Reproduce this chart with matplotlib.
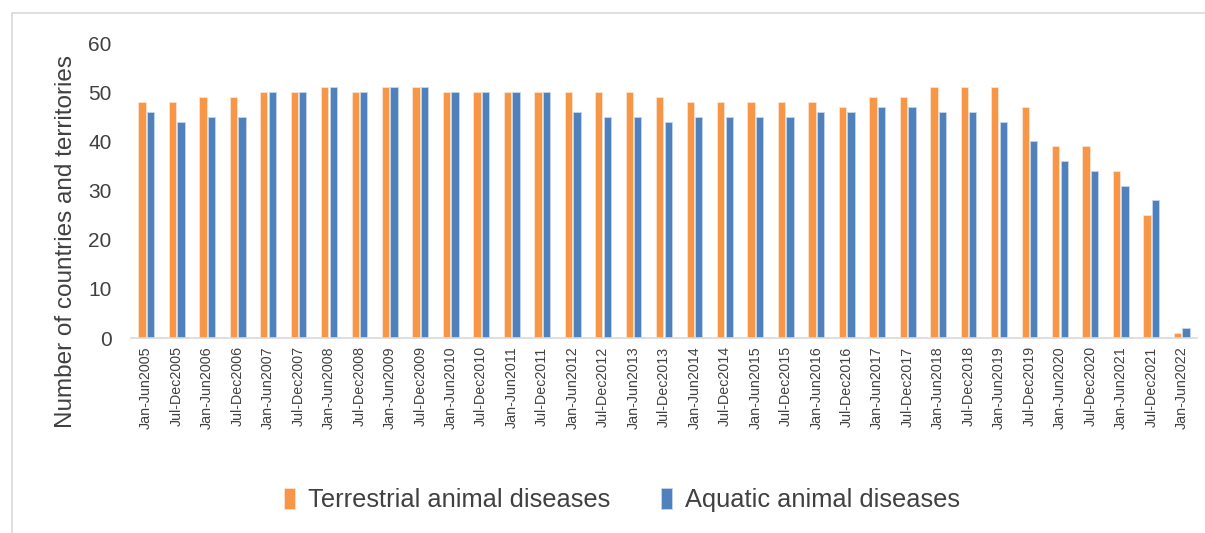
import matplotlib
matplotlib.use("Agg")
import matplotlib.pyplot as plt
import numpy as np

categories = []
for yr in range(2005, 2022):
    categories.append(f"Jan-Jun{yr}")
    categories.append(f"Jul-Dec{yr}")
categories.append("Jan-Jun2022")

terrestrial = [48, 48, 49, 49, 50, 50, 51, 50, 51, 51, 50, 50, 50, 50, 50, 50, 50, 49,
               48, 48, 48, 48, 48, 47, 49, 49, 51, 51, 51, 47, 39, 39, 34, 25, 1]
aquatic = [46, 44, 45, 45, 50, 50, 51, 50, 51, 51, 50, 50, 50, 50, 46, 45, 45, 44,
           45, 45, 45, 45, 46, 46, 47, 47, 46, 46, 44, 40, 36, 34, 31, 28, 2]

plt.rcParams['font.family'] = ['Liberation Sans', 'DejaVu Sans']

fig = plt.figure(figsize=(12.05, 5.33), dpi=100)
# outer light border
fig.patches.append(plt.Rectangle((12/1205, -0.1), 1.2, 1 - 13/533 + 0.1, transform=fig.transFigure,
                                 fill=False, edgecolor='#d9d9d9', linewidth=1.2))
ax = fig.add_axes([131/1205, 1 - 338/533, (1197 - 131)/1205, (338 - 43)/533])

x = np.arange(len(categories))
w = 0.24
ax.bar(x - 0.14, terrestrial, width=w, color='#F79646', edgecolor='#fde3cf', linewidth=0.6,
       label='Terrestrial animal diseases')
ax.bar(x + 0.14, aquatic, width=w, color='#4F81BD', edgecolor='#c6d6ec', linewidth=0.6,
       label='Aquatic animal diseases')

ax.set_xlim(-0.5, len(categories) - 0.5)
ax.set_ylim(0, 60)
ax.set_yticks(range(0, 61, 10))
ax.set_xticks(x)
ax.set_xticklabels(categories, rotation=90, fontsize=10.3, color='#404040')
ax.tick_params(axis='y', labelsize=15, colors='#404040', length=0, pad=14)
ax.tick_params(axis='x', length=0, pad=6)
for s in ['top', 'right', 'left']:
    ax.spines[s].set_visible(False)
ax.spines['bottom'].set_color('#d9d9d9')
ax.spines['bottom'].set_linewidth(1.2)
ax.set_ylabel('Number of countries and territories', fontsize=17.5, color='#404040')
ax.yaxis.set_label_coords(-0.051, (338 - 242) / 295)

leg = fig.legend(loc='center', bbox_to_anchor=(622/1205, 1 - 500/533), ncol=2, frameon=False,
                 fontsize=18.3, handlelength=0.45, handleheight=0.9, handletextpad=0.5,
                 columnspacing=2.0, labelcolor='#404040')

fig.savefig('out.png', dpi=100)
